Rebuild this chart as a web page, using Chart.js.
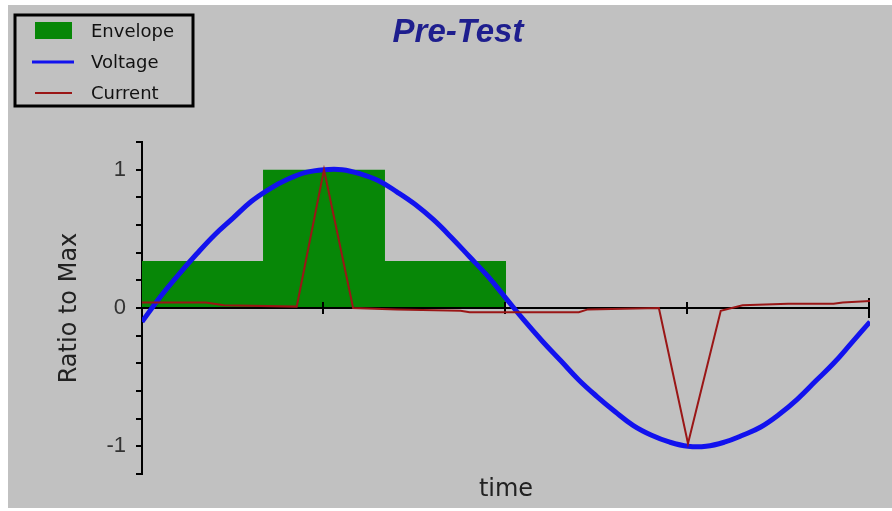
<!DOCTYPE html>
<html>
<head>
<meta charset="utf-8">
<title>Pre-Test</title>
<script src="https://cdn.jsdelivr.net/npm/chart.js@4.4.0/dist/chart.umd.min.js"></script>
<style>
  html, body { margin: 0; padding: 0; background: #fff; }
  canvas { display: block; }
</style>
</head>
<body>
<canvas id="preTest" width="892" height="511"></canvas>
<script>
// time runs 0..4, one unlabeled tick per unit
const voltageTime = [0, 0.1, 0.2, 0.3, 0.4, 0.5, 0.6, 0.7, 0.8, 0.9, 1.0, 1.1, 1.2, 1.3, 1.4, 1.5, 1.6, 1.7, 1.8, 1.9, 2.0,
    2.1, 2.2, 2.3, 2.4, 2.5, 2.6, 2.7, 2.8, 2.9, 3.0, 3.1, 3.2, 3.3, 3.4, 3.5, 3.6, 3.7, 3.8, 3.9, 4.0];
const voltage = [-0.10, 0.08, 0.24, 0.39, 0.53, 0.65, 0.77, 0.86, 0.93, 0.98, 1.00, 1.00, 0.97, 0.92, 0.84, 0.75, 0.64, 0.51, 0.37, 0.23, 0.07,
    -0.09, -0.24, -0.38, -0.52, -0.64, -0.75, -0.85, -0.92, -0.97, -1.00, -1.00, -0.97, -0.92, -0.86, -0.77, -0.66, -0.53, -0.40, -0.25, -0.10];

const currentTime = [0, 0.35, 0.45, 0.85, 1.0, 1.16, 1.4, 1.75, 1.8, 2.4, 2.45, 2.84, 3.0, 3.18, 3.3, 3.55, 3.8, 3.85, 4.0];
const current = [0.04, 0.04, 0.02, 0.01, 1.0, 0.0, -0.01, -0.02, -0.03, -0.03, -0.01, 0.0, -0.98, -0.02, 0.02, 0.03, 0.03, 0.04, 0.05];

const envelopeTime = [0, 0.665, 1.335, 2.0];
const envelope = [0.34, 1, 0.34, 0];

const yLabels = [-1, 0, 1];
const timeTicks = [1, 2, 3, 4];

function toPoints(xs, ys) {
    return xs.map(function(x, i) { return { x: x, y: ys[i] }; });
}

// grey panel behind everything
const panelPlugin = {
    id: 'panel',
    beforeDraw: function(chart) {
        const ctx = chart.ctx;
        ctx.save();
        ctx.fillStyle = '#ffffff';
        ctx.fillRect(0, 0, chart.width, chart.height);
        ctx.fillStyle = '#c1c1c1';
        ctx.fillRect(8, 5, chart.width - 8, 503);
        ctx.restore();
    }
};

// horizontal axis drawn through y = 0, right after the envelope
const zeroAxisPlugin = {
    id: 'zeroAxis',
    afterDatasetDraw: function(chart, args) {
        if (args.index !== 0) return;
        const ctx = chart.ctx;
        const x = chart.scales.x;
        const y0 = chart.scales.y.getPixelForValue(0);
        ctx.save();
        ctx.strokeStyle = '#000';
        ctx.lineWidth = 2;
        ctx.beginPath();
        ctx.moveTo(x.getPixelForValue(0), y0);
        ctx.lineTo(x.getPixelForValue(4), y0);
        timeTicks.forEach(function(t) {
            const px = Math.round(x.getPixelForValue(t)) - 1;
            const len = t === 4 ? 10 : 6;
            ctx.moveTo(px, y0 - len);
            ctx.lineTo(px, y0 + len);
        });
        ctx.stroke();
        ctx.restore();
    }
};

// title and boxed legend
const legendBoxPlugin = {
    id: 'legendBox',
    afterDraw: function(chart) {
        const ctx = chart.ctx;
        ctx.save();
        ctx.fillStyle = '#1e1e8e';
        ctx.font = 'italic bold 33px "Liberation Sans"';
        ctx.textAlign = 'center';
        ctx.textBaseline = 'middle';
        ctx.fillText('Pre-Test', 458, 33);

        ctx.strokeStyle = '#000';
        ctx.lineWidth = 3;
        ctx.strokeRect(15, 15, 178, 91);

        ctx.font = '18px "DejaVu Sans"';
        ctx.textAlign = 'left';
        chart.data.datasets.forEach(function(ds, i) {
            const cy = 31 + i * 31;
            if (ds.fill) {
                ctx.fillStyle = ds.backgroundColor;
                ctx.fillRect(35, cy - 9, 37, 17);
            } else {
                ctx.strokeStyle = ds.borderColor;
                ctx.lineWidth = ds.borderWidth > 3 ? 3 : ds.borderWidth;
                ctx.beginPath();
                ctx.moveTo(ds.borderWidth > 3 ? 32 : 35, cy);
                ctx.lineTo(ds.borderWidth > 3 ? 74 : 72, cy);
                ctx.stroke();
            }
            ctx.fillStyle = '#111';
            ctx.fillText(ds.label, 91, cy + 1);
        });
        ctx.restore();
    }
};

new Chart(document.getElementById('preTest'), {
    type: 'line',
    data: {
        datasets: [{
            label: 'Envelope',
            data: toPoints(envelopeTime, envelope),
            stepped: 'before',
            fill: 'origin',
            backgroundColor: '#078707',
            borderColor: '#078707',
            borderWidth: 0,
            pointRadius: 0,
            order: 3
        }, {
            label: 'Voltage',
            data: toPoints(voltageTime, voltage),
            fill: false,
            borderColor: '#1212ee',
            borderWidth: 5,
            tension: 0.4,
            pointRadius: 0,
            order: 2
        }, {
            label: 'Current',
            data: toPoints(currentTime, current),
            fill: false,
            borderColor: '#9a1616',
            borderWidth: 2,
            tension: 0,
            pointRadius: 0,
            order: 1
        }]
    },
    options: {
        responsive: false,
        animation: false,
        layout: {
            padding: { top: 142, right: 22, left: 0, bottom: 0 }
        },
        plugins: {
            legend: { display: false },
            title: { display: false },
            tooltip: { enabled: false }
        },
        scales: {
            x: {
                type: 'linear',
                min: 0,
                max: 4,
                ticks: { display: false },
                grid: { display: false },
                border: { display: false },
                title: {
                    display: true,
                    text: 'time',
                    color: '#222',
                    font: { family: 'DejaVu Sans', size: 24 },
                    padding: { top: 0, bottom: 7 }
                },
                afterFit: function(scale) { scale.height = 37; }
            },
            y: {
                min: -1.2,
                max: 1.2,
                ticks: {
                    stepSize: 0.2,
                    autoSkip: false,
                    padding: 10,
                    color: '#333',
                    font: { family: 'Liberation Sans', size: 22 },
                    callback: function(value) {
                        const r = Math.round(value);
                        return (Math.abs(value - r) < 1e-6 && yLabels.indexOf(r) >= 0) ? String(r) : '';
                    }
                },
                grid: {
                    drawOnChartArea: false,
                    drawTicks: true,
                    tickLength: 6,
                    color: '#000',
                    lineWidth: 2
                },
                border: { display: true, color: '#000', width: 2 },
                title: {
                    display: true,
                    text: 'Ratio to Max',
                    color: '#222',
                    font: { family: 'DejaVu Sans', size: 24 },
                    padding: { top: 55, bottom: 0 }
                },
                afterFit: function(scale) { scale.width = 142; }
            }
        }
    },
    plugins: [panelPlugin, zeroAxisPlugin, legendBoxPlugin]
});
</script>
</body>
</html>
